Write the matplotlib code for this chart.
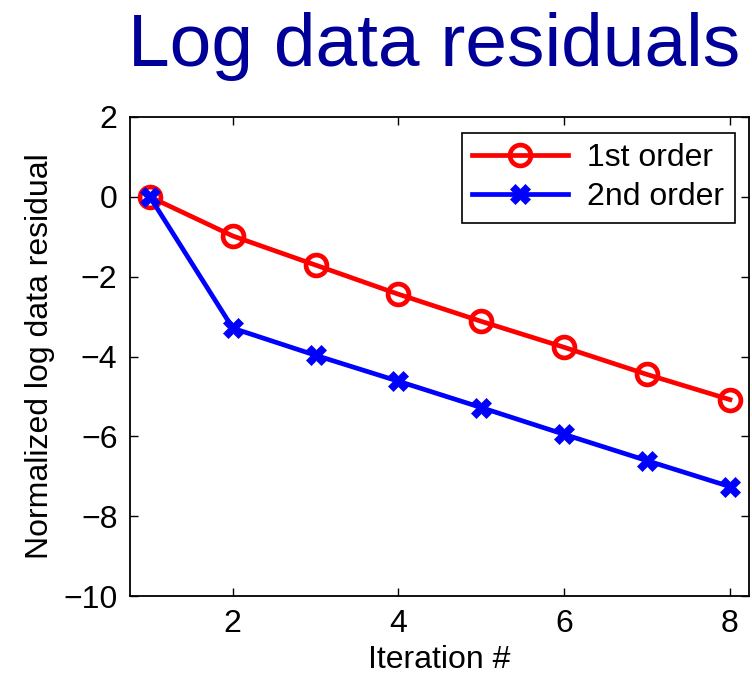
import matplotlib
matplotlib.use("Agg")
import matplotlib.pyplot as plt

iterations = [1, 2, 3, 4, 5, 6, 7, 8]
first_order = [0.0, -0.98, -1.71, -2.44, -3.12, -3.77, -4.45, -5.08]
second_order = [0.0, -3.29, -3.97, -4.62, -5.28, -5.95, -6.61, -7.26]
x_ticks = [2, 4, 6, 8]
y_ticks = [2, 0, -2, -4, -6, -8, -10]

plt.rcParams["font.family"] = ["Liberation Sans", "DejaVu Sans"]

fig = plt.figure(figsize=(7.52, 6.74), dpi=100)
ax = fig.add_axes([130 / 752, 1 - 596 / 674, (749 - 130) / 752, (596 - 117) / 674])

ax.plot(iterations, first_order, color="red", lw=3.4, marker="o", ms=15,
        mfc="none", mec="red", mew=3.4, label="1st order", zorder=3)
ax.plot(iterations, second_order, color="blue", lw=3.4, marker="X", ms=14,
        mfc="blue", mec="blue", mew=0.5, label="2nd order", zorder=4)

ax.set_xlim(0.76, 8.23)
ax.set_ylim(-10, 2)
ax.set_xticks(x_ticks)
ax.set_yticks(y_ticks)
ax.set_yticklabels([str(v).replace("-", "\u2212") for v in y_ticks])
ax.tick_params(direction="in", length=6, width=1, labelsize=23, top=True, right=True, pad=9)
for s in ax.spines.values():
    s.set_linewidth(1.3)

ax.set_xlabel("Iteration #", fontsize=23, labelpad=5)
ax.set_ylabel("Normalized log data residual", fontsize=23, labelpad=6)

leg = ax.legend(loc="upper right", fontsize=23, handlelength=3.0, frameon=True,
                fancybox=False, edgecolor="black", framealpha=1,
                borderpad=0.33, labelspacing=0.28, handletextpad=0.6,
                borderaxespad=0, bbox_to_anchor=(0.977, 0.967))
leg.get_frame().set_linewidth(1.2)

fig.text(0.577, 0.982, "Log data residuals", fontsize=54, color="#000099",
         ha="center", va="top")

fig.savefig("out.png", dpi=100)
